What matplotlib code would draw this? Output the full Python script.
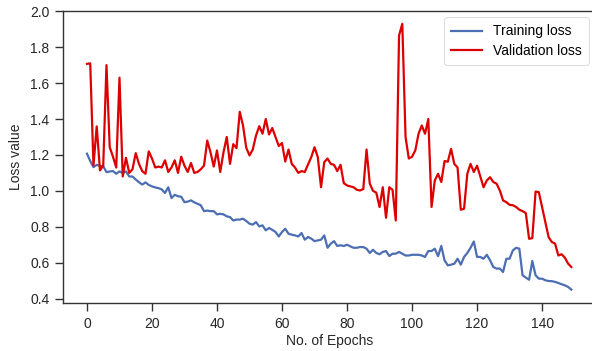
import numpy as np
import matplotlib.pyplot as plt

# loss values, one per epoch (0..149)
train_loss = [
    1.207, 1.166, 1.132, 1.145, 1.138, 1.138, 1.104, 1.108, 1.110, 1.095,
    1.108, 1.100, 1.108, 1.080, 1.080, 1.063, 1.048, 1.035, 1.047, 1.033,
    1.025, 1.019, 1.015, 1.008, 0.988, 1.020, 0.960, 0.978, 0.970, 0.967,
    0.937, 0.940, 0.947, 0.936, 0.928, 0.920, 0.887, 0.890, 0.887, 0.887,
    0.869, 0.872, 0.869, 0.858, 0.854, 0.835, 0.840, 0.840, 0.845, 0.832,
    0.817, 0.812, 0.826, 0.802, 0.808, 0.780, 0.793, 0.783, 0.771, 0.746,
    0.771, 0.789, 0.761, 0.756, 0.752, 0.746, 0.765, 0.728, 0.743, 0.734,
    0.720, 0.724, 0.728, 0.752, 0.683, 0.706, 0.720, 0.693, 0.697, 0.693,
    0.700, 0.691, 0.683, 0.683, 0.687, 0.687, 0.678, 0.654, 0.672, 0.654,
    0.647, 0.660, 0.665, 0.637, 0.650, 0.650, 0.660, 0.650, 0.640, 0.640,
    0.644, 0.644, 0.644, 0.640, 0.632, 0.665, 0.665, 0.678, 0.636, 0.693,
    0.613, 0.585, 0.589, 0.594, 0.622, 0.589, 0.632, 0.654, 0.683, 0.718,
    0.632, 0.632, 0.622, 0.644, 0.613, 0.576, 0.567, 0.567, 0.548, 0.622,
    0.622, 0.668, 0.683, 0.678, 0.530, 0.517, 0.505, 0.609, 0.530, 0.511,
    0.511, 0.502, 0.498, 0.497, 0.493, 0.487, 0.480, 0.474, 0.465, 0.450,
]

val_loss = [
    1.707, 1.710, 1.142, 1.359, 1.114, 1.140, 1.700, 1.243, 1.190, 1.130,
    1.630, 1.080, 1.184, 1.100, 1.120, 1.210, 1.150, 1.110, 1.095, 1.220,
    1.180, 1.130, 1.135, 1.130, 1.170, 1.105, 1.130, 1.170, 1.100, 1.190,
    1.140, 1.105, 1.155, 1.100, 1.105, 1.120, 1.140, 1.280, 1.215, 1.135,
    1.225, 1.105, 1.215, 1.300, 1.150, 1.260, 1.238, 1.440, 1.364, 1.240,
    1.197, 1.230, 1.308, 1.360, 1.318, 1.400, 1.314, 1.350, 1.300, 1.250,
    1.266, 1.163, 1.230, 1.150, 1.130, 1.100, 1.110, 1.105, 1.147, 1.188,
    1.243, 1.188, 1.020, 1.160, 1.180, 1.150, 1.145, 1.110, 1.145, 1.043,
    1.030, 1.025, 1.020, 1.006, 1.002, 1.010, 1.230, 1.040, 1.000, 0.990,
    0.910, 1.020, 0.850, 1.020, 1.006, 0.835, 1.865, 1.930, 1.300, 1.180,
    1.190, 1.225, 1.318, 1.364, 1.318, 1.400, 0.910, 1.058, 1.095, 1.049,
    1.166, 1.162, 1.234, 1.150, 1.130, 0.895, 0.900, 1.095, 1.150, 1.105,
    1.140, 1.080, 1.020, 1.058, 1.076, 1.049, 1.040, 1.002, 0.947, 0.937,
    0.922, 0.920, 0.910, 0.895, 0.887, 0.876, 0.733, 0.737, 0.996, 0.993,
    0.910, 0.826, 0.743, 0.715, 0.706, 0.640, 0.647, 0.628, 0.595, 0.576,
]

epochs = np.arange(len(train_loss))

plt.rcParams['font.family'] = ['Liberation Sans', 'DejaVu Sans']
plt.rcParams['font.size'] = 10

fig = plt.figure(figsize=(5.92, 3.51), dpi=100)
ax = fig.add_axes([0.106, 0.137, 0.900, 0.833])

ax.plot(epochs, train_loss, color='#4c6eb3', linewidth=1.6, label='Training loss')
ax.plot(epochs, val_loss, color='#dd0000', linewidth=1.6, label='Validation loss')

ax.set_xticks(np.arange(0, 141, 20))
ax.set_yticks(np.arange(0.4, 2.01, 0.2))
ax.set_yticklabels(['%.1f' % v for v in np.arange(0.4, 2.01, 0.2)])

ax.set_xlabel('No. of Epochs', color='#262626', labelpad=2)
ax.set_ylabel('Loss value', color='#262626', labelpad=5)

for sp in ax.spines.values():
    sp.set_color('#333333')
    sp.set_linewidth(1.0)
ax.tick_params(direction='out', length=5.5, width=1, color='#333333',
               labelcolor='#262626')
ax.tick_params(axis='x', pad=5)
ax.tick_params(axis='y', pad=4)

leg = ax.legend(loc='upper right', fontsize=10, handlelength=2.2,
                borderpad=0.5, labelspacing=0.4, fancybox=True, framealpha=1.0)
leg.get_frame().set_edgecolor('#dddddd')
leg.get_frame().set_linewidth(0.8)

fig.savefig('out.png', dpi=100)
